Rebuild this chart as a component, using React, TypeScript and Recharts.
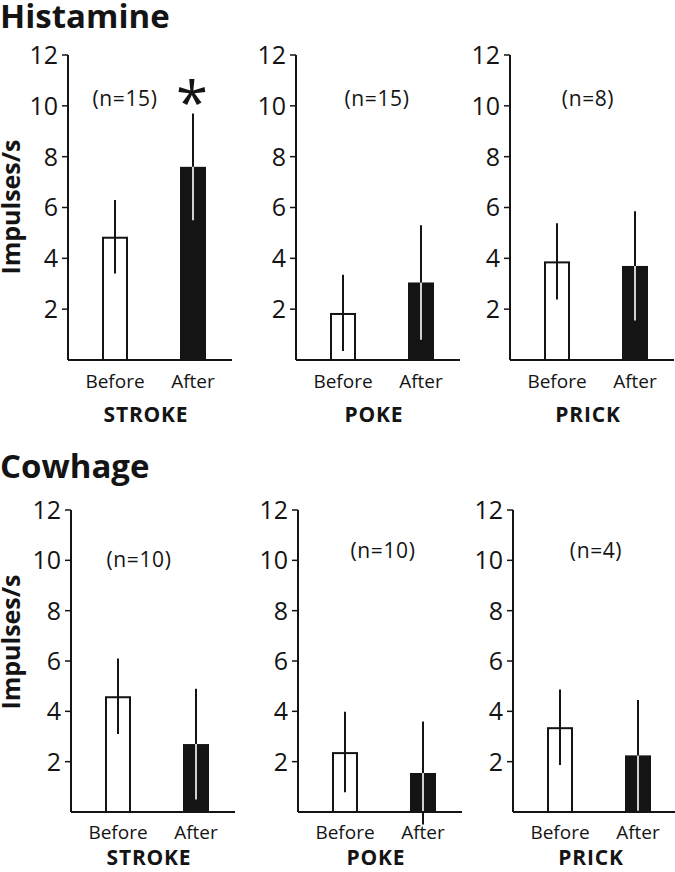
import React from "react";
import { BarChart, Bar, XAxis, YAxis, Label } from "recharts";

const CATEGORIES = ["Before", "After"];
const STIMULI = ["STROKE", "POKE", "PRICK"];
const Y_TICKS = [2, 4, 6, 8, 10, 12];

// mean impulses/s per stimulus: [before, after]
const HISTAMINE_MEAN = [[4.85, 7.6], [1.85, 3.05], [3.88, 3.7]];
const HISTAMINE_ERR = [[1.45, 2.1], [1.5, 2.25], [1.5, 2.15]];
const HISTAMINE_N = [15, 15, 8];

const COWHAGE_MEAN = [[4.6, 2.7], [2.38, 1.55], [3.37, 2.25]];
const COWHAGE_ERR = [[1.5, 2.2], [1.6, 2.05], [1.5, 2.2]];
const COWHAGE_N = [10, 10, 4];

const FONT = "'Open Sans', 'Liberation Sans', sans-serif";
const INK = "#141414";
const PLOT_W = 164;
const MT = 25;
const XH = 70;

const ROWS = [
  { title: "Histamine", titleY: 27, plotTop: 55, plotH: 305, axisX: [68, 296, 510], nX: [125, 377, 588], nY: [106, 106, 106], labelOffset: 8, tickMargin: 15, yLabelY: 207 },
  { title: "Cowhage", titleY: 477, plotTop: 510, plotH: 302, axisX: [71, 298, 513], nX: [139, 383, 596], nY: [567, 558, 558], labelOffset: 17, tickMargin: 14, yLabelY: 642 },
];

function BarWithError(props: any) {
  const { x, y, width, height, payload } = props;
  const ppu = payload.value > 0 ? height / payload.value : 0;
  const cx = x + width / 2;
  const top = y - payload.err * ppu;
  const bottom = y + payload.err * ppu;
  const base = y + height;
  return (
    <g>
      {payload.dark ? (
        <rect x={x} y={y} width={width} height={height} fill={INK} />
      ) : (
        <rect x={x + 1} y={y + 1} width={width - 2} height={height - 1} fill="#fff" stroke={INK} strokeWidth={2} />
      )}
      <line x1={cx} x2={cx} y1={top} y2={bottom} stroke={INK} strokeWidth={2} />
      {payload.dark && (
        <line x1={cx} x2={cx} y1={y} y2={Math.min(bottom, base)} stroke="#fff" strokeWidth={1.6} />
      )}
    </g>
  );
}

function Panel({ means, errs, stim, left, top, yw, plotH, labelOffset, tickMargin }: any) {
  const data = CATEGORIES.map((c, i) => ({ name: c, value: means[i], err: errs[i], dark: i === 1 }));
  return (
    <div style={{ position: "absolute", left, top }}>
      <BarChart
        width={yw + PLOT_W + 8}
        height={MT + plotH + XH}
        data={data}
        margin={{ top: MT, right: 8, left: 0, bottom: 0 }}
      >
        <XAxis
          dataKey="name"
          height={XH}
          interval={0}
          padding={{ left: 8, right: 0 }}
          axisLine={{ stroke: INK, strokeWidth: 2 }}
          tickLine={false}
          tickSize={0}
          tickMargin={tickMargin}
          tick={{ fontSize: 19, fill: INK, fontFamily: FONT }}
        >
          <Label value={stim} position="insideBottom" offset={labelOffset} dx={-4} fontSize={21} fontWeight="bold" letterSpacing={0.8} fill={INK} fontFamily={FONT} />
        </XAxis>
        <YAxis
          domain={[0, 12]}
          ticks={Y_TICKS}
          width={yw}
          interval={0}
          axisLine={{ stroke: INK, strokeWidth: 2 }}
          tickLine={{ stroke: INK, strokeWidth: 1.5 }}
          tickSize={6}
          tickMargin={4}
          tick={{ fontSize: 25, fill: INK, fontFamily: FONT }}
        />
        <Bar dataKey="value" barSize={26} shape={BarWithError} isAnimationActive={false} />
      </BarChart>
    </div>
  );
}

export default function App() {
  const sets = [
    { means: HISTAMINE_MEAN, errs: HISTAMINE_ERR, ns: HISTAMINE_N },
    { means: COWHAGE_MEAN, errs: COWHAGE_ERR, ns: COWHAGE_N },
  ];
  return (
    <div style={{ position: "absolute", left: 0, top: 0, width: 675, height: 872, overflow: "hidden", background: "#fff", fontFamily: FONT }}>
      {ROWS.map((row, r) =>
        STIMULI.map((stim, c) => {
          const yw = c === 0 ? row.axisX[0] : 60;
          return (
            <Panel
              key={`${r}-${c}`}
              means={sets[r].means[c]}
              errs={sets[r].errs[c]}
              stim={stim}
              left={row.axisX[c] - yw}
              top={row.plotTop - MT}
              yw={yw}
              plotH={row.plotH}
              labelOffset={row.labelOffset}
              tickMargin={row.tickMargin}
            />
          );
        })
      )}
      <svg width={675} height={872} style={{ position: "absolute", left: 0, top: 0, pointerEvents: "none" }}>
        {ROWS.map((row, r) => (
          <g key={r} fontFamily={FONT} fill={INK}>
            <text x={0} y={row.titleY + 1} fontSize={33} fontWeight="bold">{row.title}</text>
            <text x={20} y={row.yLabelY} fontSize={25} fontWeight="bold" textAnchor="middle" transform={`rotate(-90 20 ${row.yLabelY})`}>
              Impulses/s
            </text>
            {sets[r].ns.map((n, c) => (
              <text key={c} x={row.nX[c]} y={row.nY[c]} fontSize={21} letterSpacing={0.6} textAnchor="middle">{`(n=${n})`}</text>
            ))}
          </g>
        ))}
        <text x={192} y={124} fontSize={58} fontFamily={FONT} fill={INK} textAnchor="middle">*</text>
      </svg>
    </div>
  );
}
